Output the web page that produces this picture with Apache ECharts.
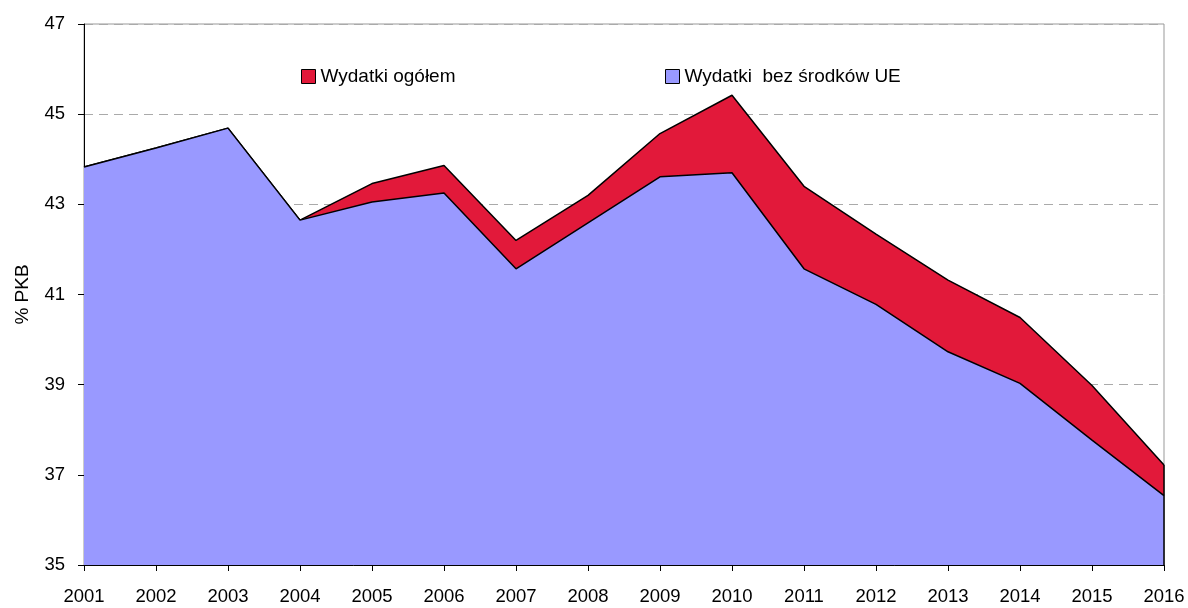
<!DOCTYPE html>
<html>
<head>
<meta charset="utf-8">
<script src="https://cdn.jsdelivr.net/npm/echarts@6/dist/echarts.min.js"></script>
<style>
  html, body { margin: 0; padding: 0; background: #fff; }
  #chart { width: 1188px; height: 608px; }
</style>
</head>
<body>
<div id="chart"></div>
<script>
const years = ['2001', '2002', '2003', '2004', '2005', '2006', '2007', '2008',
  '2009', '2010', '2011', '2012', '2013', '2014', '2015', '2016'];
// % PKB
const totalSpending = [43.83, 44.25, 44.69, 42.65, 43.46, 43.86, 42.20, 43.20,
  44.57, 45.42, 43.40, 42.34, 41.32, 40.49, 38.98, 37.22];
const spendingWithoutEU = [43.83, 44.25, 44.69, 42.65, 43.05, 43.25, 41.57, 42.59,
  43.61, 43.70, 41.57, 40.78, 39.73, 39.03, 37.77, 36.54];
const yTicks = [35, 37, 39, 41, 43, 45, 47];

const nameTotal = 'Wydatki ogółem';
const nameNoEU = 'Wydatki  bez środków UE';
const red = '#E2193A';
const blue = '#9999FF';
const font = 'Arial, "Liberation Sans", sans-serif';

const chart = echarts.init(document.getElementById('chart'));

const legendBase = {
    top: 62,
    itemWidth: 14,
    itemHeight: 14,
    itemGap: 5,
    icon: 'rect',
    selectedMode: false,
    textStyle: { color: '#000', fontSize: 19, fontFamily: font }
};

const option = {
    animation: false,
    grid: { left: 84, right: 24, top: 24, bottom: 43, show: true, borderColor: '#999', borderWidth: 1 },
    legend: [
        Object.assign({}, legendBase, {
            left: 296,
            data: [{ name: nameTotal, itemStyle: { color: red, borderColor: '#000', borderWidth: 1 } }]
        }),
        Object.assign({}, legendBase, {
            left: 660,
            data: [{ name: nameNoEU, itemStyle: { color: blue, borderColor: '#000', borderWidth: 1 } }]
        })
    ],
    xAxis: {
        type: 'category',
        data: years,
        boundaryGap: false,
        axisLine: { lineStyle: { color: '#000', width: 1 } },
        axisTick: { show: true, length: 6, alignWithLabel: true, lineStyle: { color: '#000' } },
        axisLabel: { color: '#000', fontSize: 18.5, fontFamily: font, margin: 22 },
        splitLine: { show: false }
    },
    yAxis: {
        type: 'value',
        min: yTicks[0],
        max: yTicks[yTicks.length - 1],
        interval: 2,
        name: '% PKB',
        nameLocation: 'middle',
        nameGap: 52,
        nameRotate: 90,
        nameTextStyle: { color: '#000', fontSize: 19, fontFamily: font },
        axisLine: { show: true, lineStyle: { color: '#000', width: 1 } },
        axisTick: { show: true, length: 6, lineStyle: { color: '#000' } },
        axisLabel: { color: '#000', fontSize: 18.5, fontFamily: font, margin: 19 },
        splitLine: { show: true, lineStyle: { color: '#aaa', type: [9, 6], width: 1 } }
    },
    series: [
        {
            name: nameTotal,
            type: 'line',
            data: totalSpending,
            symbol: 'none',
            itemStyle: { color: red },
            lineStyle: { color: '#000', width: 1.5 },
            areaStyle: { color: red, opacity: 1, origin: 'start' },
            z: 2
        },
        {
            name: nameNoEU,
            type: 'line',
            data: spendingWithoutEU,
            symbol: 'none',
            itemStyle: { color: blue },
            lineStyle: { color: '#000', width: 1.5 },
            areaStyle: { color: blue, opacity: 1, origin: 'start' },
            z: 3,
            // dark edge closing the areas at the last year
            markLine: {
                silent: true,
                symbol: 'none',
                label: { show: false },
                lineStyle: { color: '#000', width: 1.5, type: 'solid' },
                data: [[
                    { coord: [years[years.length - 1], yTicks[0]] },
                    { coord: [years[years.length - 1], totalSpending[totalSpending.length - 1]] }
                ]]
            }
        }
    ]
};

chart.setOption(option);
</script>
</body>
</html>
